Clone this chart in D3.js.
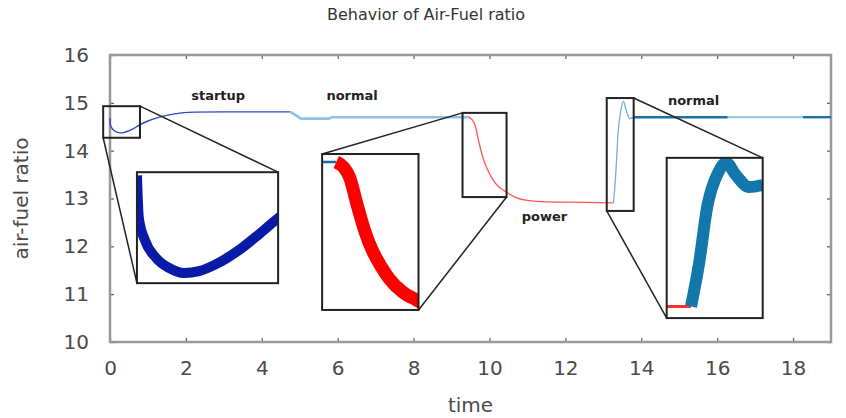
<!DOCTYPE html>
<html>
<head>
<meta charset="utf-8">
<script src="https://cdn.jsdelivr.net/npm/d3@7"></script>
<style>
  body { margin: 0; background: #fff; }
  text { font-family: "DejaVu Sans", sans-serif; }
</style>
</head>
<body>
<div id="playground"></div>
<script>
// Data (time, air-fuel ratio)
var startupT = [0, 0.011, 0.045, 0.108, 0.182, 0.267, 0.352, 0.449, 0.58, 0.693, 0.8, 1.0, 1.3, 1.7, 2.2, 3.0, 4.75]
var startupV = [14.68, 14.545, 14.476, 14.42, 14.388, 14.372, 14.378, 14.4, 14.445, 14.495, 14.545, 14.62, 14.7, 14.77, 14.805, 14.81, 14.81]

var normalT = [4.75, 4.9, 5.05, 5.77, 5.85, 9.46]
var normalV = [14.81, 14.74, 14.67, 14.67, 14.70, 14.70]

var powerT = [9.46, 9.55, 9.62, 9.71, 9.8, 9.89, 10.0, 10.1, 10.25, 10.43, 10.7, 11.0, 11.5, 12.5, 13.27]
var powerV = [14.70, 14.64, 14.53, 14.22, 13.93, 13.71, 13.52, 13.38, 13.24, 13.14, 13.02, 12.96, 12.93, 12.92, 12.91]

var recoverT = [13.27, 13.33, 13.39, 13.47, 13.53, 13.6, 13.7, 13.8]
var recoverV = [12.91, 13.55, 14.38, 14.88, 15.03, 14.85, 14.67, 14.70]

var steadyT = [13.8, 16.28, 18.26, 19]
var steadyV = [14.70, 14.70, 14.70, 14.70]

var xTicks = [0, 2, 4, 6, 8, 10, 12, 14, 16, 18]
var yTicks = [10, 11, 12, 13, 14, 15, 16]

// Zoom boxes in data coords: [t0, t1, v0, v1]
var smallBoxes = [[-0.18, 0.79, 14.27, 14.93], [9.29, 10.45, 13.03, 14.79], [13.09, 13.8, 12.74, 15.10]]
var bigBoxes = [[0.71, 4.43, 11.23, 13.55], [5.59, 8.13, 10.67, 13.93], [14.67, 17.2, 10.5, 13.85]]
var zoomViews = [[0, 0.8, 14.34, 14.69], [9.29, 10.45, 13.03, 14.79], [13.09, 13.8, 12.74, 15.10]]

var phaseLabels = ['startup', 'normal', 'power', 'normal']
var phaseT = [2.85, 6.38, 11.45, 15.38]
var phaseV = [15.06, 15.06, 12.52, 14.95]

// --- drawing

var W = 846, H = 418
var margin = {top: 55, right: 15, bottom: 76, left: 110}
var width = W - margin.left - margin.right
var height = H - margin.top - margin.bottom

var x = d3.scaleLinear().domain([0, 19]).range([0, width])
var y = d3.scaleLinear().domain([10, 16]).range([height, 0])

var svgRoot = d3.select('#playground').append('svg')
    .attr('width', W)
    .attr('height', H)

svgRoot.append('text')
    .attr('x', 426)
    .attr('y', 20)
    .attr('text-anchor', 'middle')
    .attr('font-size', '16px')
    .attr('fill', '#333')
    .text('Behavior of Air-Fuel ratio')

var svg = svgRoot.append('g')
    .attr('transform', 'translate(' + margin.left + ',' + margin.top + ')')

// Axes with inward ticks
var gx = svg.append('g')
    .attr('transform', 'translate(0,' + height + ')')
    .call(d3.axisBottom(x).tickValues(xTicks).tickSize(-4).tickPadding(19).tickFormat(d3.format('d')))
var gy = svg.append('g')
    .call(d3.axisLeft(y).tickValues(yTicks).tickSize(-4).tickPadding(21).tickFormat(d3.format('d')))
var gt = svg.append('g')
    .call(d3.axisTop(x).tickValues(xTicks).tickSize(-4).tickFormat(''))
var gr = svg.append('g')
    .attr('transform', 'translate(' + width + ',0)')
    .call(d3.axisRight(y).tickValues(yTicks).tickSize(-4).tickFormat(''))

;[gx, gy, gt, gr].forEach(function(g){
  g.select('.domain').remove()
  g.selectAll('line').attr('stroke', '#666').attr('stroke-width', 1.3)
  g.selectAll('text')
    .attr('font-family', '"DejaVu Sans", sans-serif')
    .attr('font-size', '20px')
    .attr('fill', '#4a4a4a')
})

svg.append('rect')
    .attr('x', 0)
    .attr('y', 0)
    .attr('width', width)
    .attr('height', height)
    .attr('fill', 'none')
    .attr('stroke', '#999')
    .attr('stroke-width', 2.5)

svgRoot.append('text')
    .attr('transform', 'translate(28,' + (margin.top + height / 2) + ') rotate(-90)')
    .attr('text-anchor', 'middle')
    .attr('font-size', '20px')
    .attr('fill', '#4a4a4a')
    .text('air-fuel ratio')

svgRoot.append('text')
    .attr('x', margin.left + width / 2)
    .attr('y', 412)
    .attr('text-anchor', 'middle')
    .attr('font-size', '20px')
    .attr('fill', '#4a4a4a')
    .text('time')

function series(ts, vs) {
  return ts.map(function(t, i){ return [t, vs[i]] })
}

// main-plot segments
var segments = [
  {name: 'startup', pts: series(startupT, startupV), color: '#2a48c8', w: 1.4},
  {name: 'normal', pts: series(normalT, normalV), color: '#8fc2e3', w: 2.6},
  {name: 'power', pts: series(powerT, powerV), color: '#ff5555', w: 1.3},
  {name: 'recover', pts: series(recoverT, recoverV), color: '#6fb0dc', w: 1.3},
  {name: 'steady1', pts: series(steadyT.slice(0, 2), steadyV.slice(0, 2)), color: '#1a72aa', w: 2.4},
  {name: 'steady2', pts: series(steadyT.slice(1, 3), steadyV.slice(1, 3)), color: '#9ccbe6', w: 2.2},
  {name: 'steady3', pts: series(steadyT.slice(2, 4), steadyV.slice(2, 4)), color: '#1a72aa', w: 2.4}
]

var line = d3.line()
    .x(function(d){ return x(d[0]) })
    .y(function(d){ return y(d[1]) })
    .curve(d3.curveMonotoneX)

svg.selectAll('path.seg')
    .data(segments)
  .enter().append('path')
    .attr('class', 'seg')
    .attr('d', function(d){ return line(d.pts) })
    .attr('fill', 'none')
    .attr('stroke', function(d){ return d.color })
    .attr('stroke-width', function(d){ return d.w })

// Phase labels
svg.selectAll('text.phase')
    .data(phaseLabels)
  .enter().append('text')
    .attr('class', 'phase')
    .attr('x', function(d, i){ return x(phaseT[i]) })
    .attr('y', function(d, i){ return y(phaseV[i]) })
    .attr('text-anchor', 'middle')
    .attr('font-size', '13px')
    .attr('font-weight', 'bold')
    .attr('fill', '#222')
    .text(function(d){ return d })

// Zoom boxes, connectors and insets
// which corners get connected: [[tIndex, vIndex] on small box, same on big box]
var connectors = [
  [[[1, 3], [1, 3]], [[0, 2], [0, 2]]],
  [[[0, 3], [0, 3]], [[1, 2], [1, 2]]],
  [[[1, 3], [1, 3]], [[0, 2], [0, 2]]]
]
// inset styles per segment (thick one is the focus)
var insetStyles = [
  {startup: ['#0a1aa8', 10]},
  {normal: ['#1a6aa8', 2.5], power: ['#ff0000', 13]},
  {power: ['#ff3030', 3], recover: ['#1277aa', 12], steady1: ['#1277aa', 12]}
]

var defs = svgRoot.append('defs')

smallBoxes.forEach(function(sb, k){
  var bb = bigBoxes[k]
  svg.append('rect')
      .attr('class', 'frame')
      .attr('x', x(sb[0]))
      .attr('y', y(sb[3]))
      .attr('width', x(sb[1]) - x(sb[0]))
      .attr('height', y(sb[2]) - y(sb[3]))
      .attr('fill', 'none')
      .attr('stroke', '#222')
      .attr('stroke-width', 2)

  connectors[k].forEach(function(c){
    svg.append('line')
        .attr('x1', x(sb[c[0][0]]))
        .attr('y1', y(sb[c[0][1]]))
        .attr('x2', x(bb[c[1][0]]))
        .attr('y2', y(bb[c[1][1]]))
        .attr('stroke', '#222')
        .attr('stroke-width', 1.5)
  })
})

bigBoxes.forEach(function(bb, k){
  var view = zoomViews[k]
  var ix = d3.scaleLinear().domain([view[0], view[1]]).range([x(bb[0]), x(bb[1])])
  var iy = d3.scaleLinear().domain([view[2], view[3]]).range([y(bb[2]), y(bb[3])])
  var iline = d3.line()
      .x(function(d){ return ix(d[0]) })
      .y(function(d){ return iy(d[1]) })
      .curve(d3.curveMonotoneX)

  defs.append('clipPath')
      .attr('id', 'clip' + k)
    .append('rect')
      .attr('x', x(bb[0]) + margin.left)
      .attr('y', y(bb[3]) + margin.top)
      .attr('width', x(bb[1]) - x(bb[0]))
      .attr('height', y(bb[2]) - y(bb[3]))

  svgRoot.append('rect')
      .attr('x', x(bb[0]) + margin.left)
      .attr('y', y(bb[3]) + margin.top)
      .attr('width', x(bb[1]) - x(bb[0]))
      .attr('height', y(bb[2]) - y(bb[3]))
      .attr('fill', '#fff')

  var styles = insetStyles[k]
  var g = svgRoot.append('g')
      .attr('clip-path', 'url(#clip' + k + ')')
    .append('g')
      .attr('transform', 'translate(' + margin.left + ',' + margin.top + ')')
  g.selectAll('path')
      .data(segments.filter(function(s){ return styles[s.name] }))
    .enter().append('path')
      .attr('d', function(d){ return iline(d.pts) })
      .attr('fill', 'none')
      .attr('stroke', function(d){ return styles[d.name][0] })
      .attr('stroke-width', function(d){ return styles[d.name][1] })

  svgRoot.append('rect')
      .attr('x', x(bb[0]) + margin.left)
      .attr('y', y(bb[3]) + margin.top)
      .attr('width', x(bb[1]) - x(bb[0]))
      .attr('height', y(bb[2]) - y(bb[3]))
      .attr('fill', 'none')
      .attr('stroke', '#222')
      .attr('stroke-width', 2)
})
</script>
</body>
</html>
